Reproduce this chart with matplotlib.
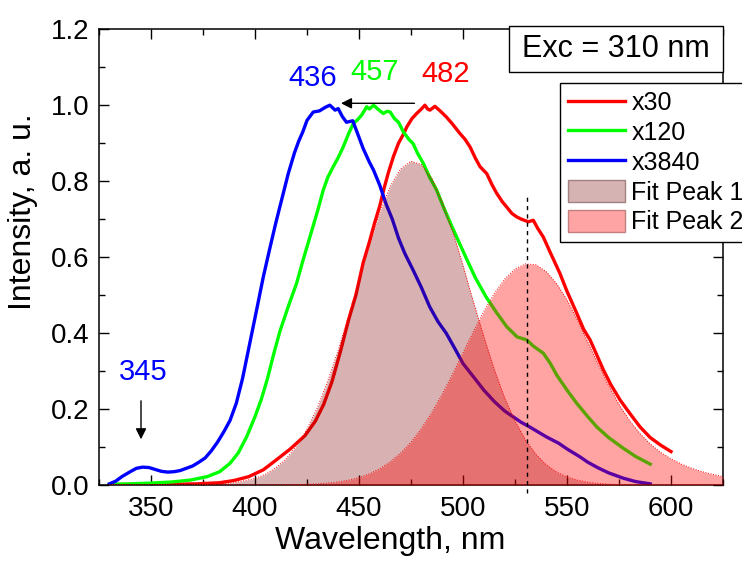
import matplotlib
matplotlib.use("Agg")
import matplotlib.pyplot as plt
import matplotlib.patches as mpatches
from matplotlib.lines import Line2D
from matplotlib.ticker import MultipleLocator

plt.rcParams["font.family"] = ["Liberation Sans", "DejaVu Sans"]

# x30 spectrum (red)
wl_x30 = [330, 345, 360, 372, 383, 390, 397, 404, 410, 417, 424, 429, 433, 437, 441,
          445, 448.5, 452, 455, 457.5, 460, 462, 464, 466.5, 469, 471.5, 473, 475.5,
          477.7, 480, 481.7, 483, 484.1, 486.5, 489, 492, 495, 498.6, 501, 503.4, 506,
          508.2, 511.4, 514, 516.2, 519, 521, 523.5, 525.8, 528, 531.4, 533.8, 536,
          538.6, 541.8, 546.6, 550, 554.7, 558, 561.1, 567.5, 571, 575.5, 580, 585.1,
          590, 595, 600]
int_x30 = [0.001, 0.002, 0.002, 0.003, 0.006, 0.012, 0.022, 0.04, 0.065, 0.095, 0.13,
           0.168, 0.212, 0.272, 0.35, 0.435, 0.5, 0.585, 0.64, 0.69, 0.735, 0.78, 0.82,
           0.864, 0.9, 0.925, 0.943, 0.965, 0.978, 0.99, 1.0, 0.99, 0.987, 0.997, 0.985,
           0.969, 0.95, 0.925, 0.91, 0.89, 0.86, 0.838, 0.82, 0.79, 0.768, 0.745, 0.732,
           0.715, 0.706, 0.7, 0.693, 0.697, 0.675, 0.653, 0.614, 0.557, 0.51, 0.452,
           0.41, 0.382, 0.303, 0.265, 0.224, 0.19, 0.153, 0.125, 0.105, 0.088]

# x120 spectrum (green)
wl_x120 = [330, 340, 350, 360, 369, 377, 383, 388, 392, 396, 400, 403, 406, 409, 412,
           416, 420, 423, 426.4, 430, 432.8, 435, 437.6, 440, 442.4, 445, 447.3, 449,
           451.3, 453.7, 455, 457, 459, 461.7, 463.5, 465, 467, 469, 471.3, 474, 476,
           478, 481, 484, 487.4, 490, 494, 498, 502, 506, 511, 516, 521, 526, 530.6,
           534, 538.6, 542, 545, 550, 554.7, 560, 564.3, 570, 577, 583, 590]
int_x120 = [0.002, 0.003, 0.005, 0.008, 0.013, 0.022, 0.035, 0.057, 0.085, 0.127, 0.18,
            0.225, 0.28, 0.345, 0.405, 0.47, 0.531, 0.59, 0.653, 0.72, 0.776, 0.81,
            0.838, 0.862, 0.89, 0.925, 0.952, 0.96, 0.974, 0.996, 0.99, 1.0, 0.99, 0.978,
            0.984, 0.982, 0.965, 0.955, 0.93, 0.91, 0.899, 0.875, 0.846, 0.81, 0.776,
            0.74, 0.689, 0.64, 0.592, 0.545, 0.496, 0.455, 0.417, 0.39, 0.382, 0.365,
            0.347, 0.32, 0.29, 0.25, 0.215, 0.18, 0.153, 0.125, 0.097, 0.075, 0.055]

# x3840 spectrum (blue)
wl_x3840 = [330, 333, 336, 340, 343, 346, 349, 352, 355, 358, 361, 364, 367, 370, 373,
            376, 379, 382, 385, 388, 391, 394, 397, 400, 404, 407, 410, 413.6, 416,
            419, 421, 423, 425, 428, 431, 434, 436, 438.5, 440, 442, 444, 447, 449, 452,
            455, 457, 460, 463, 466, 469, 472, 476, 480, 484, 488, 492, 496, 500, 505,
            510, 515, 520, 524, 528, 532, 536, 540, 546, 550, 556, 560, 565, 570, 577,
            583, 590]
int_x3840 = [0.003, 0.01, 0.022, 0.035, 0.044, 0.047, 0.046, 0.041, 0.036, 0.034, 0.035,
             0.038, 0.044, 0.05, 0.06, 0.071, 0.09, 0.113, 0.14, 0.17, 0.215, 0.28,
             0.36, 0.44, 0.548, 0.62, 0.69, 0.768, 0.82, 0.875, 0.905, 0.93, 0.96,
             0.982, 0.985, 0.995, 1.0, 0.987, 0.991, 0.97, 0.955, 0.959, 0.93, 0.886,
             0.85, 0.829, 0.789, 0.74, 0.70, 0.65, 0.61, 0.566, 0.52, 0.469, 0.43, 0.399,
             0.36, 0.32, 0.285, 0.25, 0.22, 0.195, 0.18, 0.165, 0.153, 0.14, 0.127, 0.11,
             0.095, 0.075, 0.06, 0.045, 0.032, 0.018, 0.009, 0.003]

# fitted peaks
wl_fit = [330, 340, 350, 360, 370, 380, 390, 400, 405, 410, 415, 420, 425, 430, 435,
          440, 445, 450, 455, 460, 465, 470, 475, 480, 485, 490, 495, 500, 505, 510,
          515, 520, 525, 530, 535, 540, 545, 550, 555, 560, 565, 570, 575, 580, 585,
          590, 595, 600, 605, 610, 615, 620, 625]
fit_peak1 = [0.0, 0.0, 0.0, 0.0001, 0.0004, 0.0017, 0.0058, 0.0173, 0.0282, 0.0452,
             0.0693, 0.1026, 0.1471, 0.2039, 0.2736, 0.3548, 0.4455, 0.5398, 0.6328,
             0.7174, 0.786, 0.8325, 0.8524, 0.8438, 0.8076, 0.7471, 0.6688, 0.5778,
             0.482, 0.3908, 0.3048, 0.2294, 0.1684, 0.1188, 0.0809, 0.0536, 0.034,
             0.0211, 0.013, 0.0072, 0.004, 0.0022, 0.0011, 0.0006, 0.0003, 0.0001, 0.0,
             0.0, 0.0, 0.0, 0.0, 0.0, 0.0]
fit_peak2 = [0.0, 0.0, 0.0, 0.0, 0.0, 0.0, 0.0, 0.0001, 0.0002, 0.0003, 0.0006, 0.001,
             0.0018, 0.0031, 0.0052, 0.0082, 0.0128, 0.0196, 0.0295, 0.0428, 0.061,
             0.084, 0.113, 0.149, 0.191, 0.239, 0.292, 0.348, 0.404, 0.457, 0.504, 0.542,
             0.569, 0.582, 0.58, 0.562, 0.53, 0.487, 0.434, 0.376, 0.318, 0.262, 0.212,
             0.17, 0.136, 0.108, 0.086, 0.069, 0.055, 0.044, 0.035, 0.028, 0.022]

fig = plt.figure(figsize=(7.42, 5.62), dpi=100)
ax = fig.add_axes([0.1334, 0.137, 0.841, 0.811])

lw = 2.4
ax.plot(wl_x30, int_x30, color="#ff0000", lw=lw, zorder=2)
ax.plot(wl_x120, int_x120, color="#00ff00", lw=lw, zorder=2)
ax.plot(wl_x3840, int_x3840, color="#0000ff", lw=lw, zorder=2)

# fits drawn over the spectra, semi-transparent
ax.fill_between(wl_fit, fit_peak1, color=(0.5, 0.0, 0.0), alpha=0.3, lw=0, zorder=3)
ax.fill_between(wl_fit, fit_peak2, color=(1.0, 0.0, 0.0), alpha=0.36, lw=0, zorder=3)
ax.plot(wl_fit, fit_peak1, color="red", lw=0.7, ls=":", zorder=3)
ax.plot(wl_fit, fit_peak2, color="red", lw=0.7, ls=":", zorder=3)

ax.set_xlim(325, 625)
ax.set_ylim(0, 1.2)

# peak labels and arrows
ax.text(427.9, 1.071, "436", color="#0000ff", fontsize=21, ha="center", va="center")
ax.text(457.7, 1.088, "457", color="#00ff00", fontsize=21, ha="center", va="center")
ax.text(491.8, 1.083, "482", color="#ff0000", fontsize=21, ha="center", va="center")
ax.text(346.2, 0.297, "345", color="#0000ff", fontsize=21, ha="center", va="center")

ax.annotate("", xy=(440, 1.005), xytext=(478, 1.005),
            arrowprops=dict(arrowstyle="-|>", color="black", lw=1, mutation_scale=16))
ax.annotate("", xy=(345.2, 0.113), xytext=(345.2, 0.229),
            arrowprops=dict(arrowstyle="-|>", color="black", lw=1, mutation_scale=16))

ax.plot([531, 531], [-0.02, 0.77], color="black", lw=1, ls=(0, (3, 3)),
        clip_on=False, zorder=4)

# excitation box
exc_box = mpatches.Rectangle((0.657, 0.906), 0.343, 0.101, transform=ax.transAxes,
                             facecolor="white", edgecolor="black", lw=1,
                             clip_on=False, zorder=5)
ax.add_patch(exc_box)
ax.text(0.8285, 0.956, "Exc = 310 nm", transform=ax.transAxes, fontsize=22,
        ha="center", va="center", zorder=6)

handles = [
    Line2D([], [], color="#ff0000", lw=lw),
    Line2D([], [], color="#00ff00", lw=lw),
    Line2D([], [], color="#0000ff", lw=lw),
    mpatches.Patch(facecolor="#d6b3b3", edgecolor="#a08080", lw=1),
    mpatches.Patch(facecolor="#ffa4a4", edgecolor="#c08080", lw=1),
]
labels = ["x30", "x120", "x3840", "Fit Peak 1", "Fit Peak 2"]
leg = ax.legend(handles, labels, loc="upper left", bbox_to_anchor=(0.739, 0.8816),
                fontsize=18, frameon=True, fancybox=False, framealpha=1,
                edgecolor="black", handlelength=2.3, handleheight=1.0,
                handletextpad=0.25, labelspacing=0.2, borderpad=0.3,
                borderaxespad=0)
leg.get_frame().set_linewidth(1)
leg.set_zorder(6)

ax.set_xlabel("Wavelength, nm", fontsize=23)
ax.set_ylabel("Intensity, a. u.", fontsize=23)
ax.xaxis.set_label_coords(0.466, -0.09)
ax.yaxis.set_label_coords(-0.098, 0.6)

ax.xaxis.set_major_locator(MultipleLocator(50))
ax.xaxis.set_minor_locator(MultipleLocator(25))
ax.yaxis.set_major_locator(MultipleLocator(0.2))
ax.yaxis.set_minor_locator(MultipleLocator(0.1))
ax.yaxis.set_major_formatter(plt.FormatStrFormatter("%.1f"))
ax.tick_params(which="both", direction="in", top=True, right=True, labelsize=20)
ax.tick_params(axis="x", which="major", length=7, width=1, pad=8)
ax.tick_params(axis="y", which="major", length=7, width=1, pad=7)
ax.tick_params(which="minor", length=4, width=1)
for s in ax.spines.values():
    s.set_linewidth(1.1)

fig.savefig("out.png", dpi=100)
